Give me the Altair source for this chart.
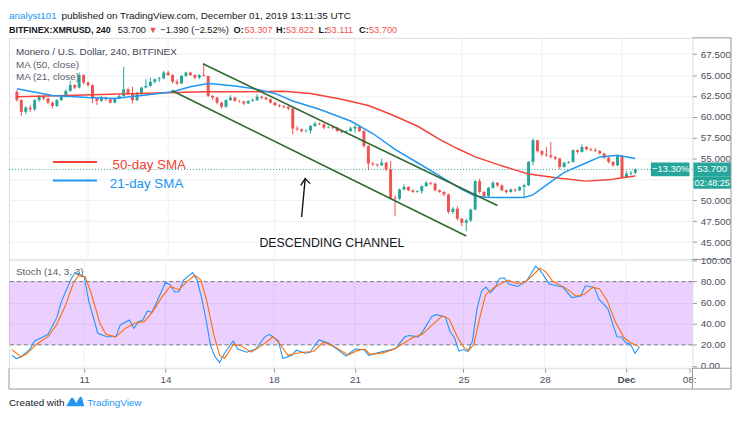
import altair as alt
import pandas as pd

# ---------------- data ----------------
first_open = 63.0
bar_close = [62.0, 60.6, 61.1, 60.9, 62.0, 62.4, 62.2, 61.7, 61.3, 62.0,
             62.4, 63.1, 63.8, 63.5, 65.0, 64.1, 63.8, 62.2, 61.9, 62.3,
             62.1, 61.7, 62.2, 62.5, 63.3, 62.8, 62.0, 62.8, 63.5, 63.7,
             64.2, 64.5, 64.6, 65.3, 65.0, 64.2, 64.0, 64.9, 65.3, 65.0,
             64.7, 65.0, 64.9, 62.5, 62.3, 61.7, 61.2, 62.0, 62.3, 61.9,
             61.85, 61.6, 61.9, 62.0, 62.4, 62.3, 62.1, 61.7, 61.4, 61.3,
             61.2, 61.0, 58.6, 58.5, 58.3, 58.35, 58.9, 59.2, 59.1, 58.7,
             58.75, 58.7, 58.3, 58.2, 58.3, 58.6, 58.8, 58.3, 56.5, 54.4,
             54.3, 54.2, 54.5, 53.7, 50.3, 50.2, 51.3, 51.6, 51.2, 51.0,
             51.1, 51.7, 52.1, 52.0, 51.2, 51.0, 50.7, 48.6, 49.0, 47.8,
             47.3, 47.6, 48.9, 52.3, 51.0, 50.5, 51.5, 52.1, 51.8, 51.2,
             51.0, 51.3, 51.2, 51.6, 51.8, 54.6, 57.2, 55.9, 55.5, 55.4,
             55.2, 55.0, 54.0, 54.5, 54.6, 56.0, 55.8, 56.4, 56.1, 56.0,
             55.9, 55.6, 55.1, 54.6, 54.2, 55.3, 52.8, 53.2, 53.307, 53.7]
bar_high = [63.2, 62.1, 61.3, 61.4, 62.1, 62.6, 62.5, 62.3, 61.8, 62.1,
            62.5, 63.3, 64.3, 63.9, 65.3, 65.1, 64.2, 63.9, 62.3, 62.5,
            62.4, 62.2, 62.3, 62.7, 66.0, 63.5, 63.6, 63.0, 63.6, 64.5,
            64.7, 64.6, 64.8, 65.5, 65.5, 65.1, 64.5, 65.0, 65.4, 65.4,
            65.1, 65.1, 66.4, 64.9, 62.6, 62.4, 61.8, 62.1, 62.6, 62.4,
            62.0, 61.9, 62.0, 62.2, 62.7, 62.5, 62.4, 62.2, 61.8, 61.5,
            61.4, 61.3, 61.1, 58.9, 58.6, 58.5, 59.0, 59.4, 59.3, 59.2,
            58.9, 58.9, 58.8, 58.4, 58.4, 58.8, 59.0, 58.9, 58.4, 56.6,
            54.6, 54.4, 55.0, 54.6, 54.7, 50.6, 51.4, 51.9, 51.7, 51.3,
            51.2, 51.8, 52.3, 52.2, 52.1, 51.3, 51.1, 50.8, 49.2, 49.3,
            47.9, 47.8, 49.0, 52.4, 52.6, 51.1, 51.6, 52.3, 52.2, 51.9,
            51.3, 51.4, 51.4, 51.7, 52.0, 54.7, 57.4, 57.2, 56.0, 56.4,
            57.0, 55.3, 55.1, 54.6, 54.7, 56.1, 56.1, 56.7, 56.5, 56.3,
            56.3, 56.0, 55.7, 55.2, 54.7, 55.4, 55.4, 53.5, 53.5, 53.822]
bar_low = [61.8, 60.1, 60.3, 60.6, 60.7, 61.8, 62.0, 61.5, 61.0, 61.2,
           61.9, 62.3, 63.0, 63.3, 63.4, 63.9, 63.6, 61.6, 61.4, 61.8,
           61.9, 61.6, 61.6, 62.1, 62.4, 62.6, 61.6, 61.9, 62.6, 63.4,
           63.6, 64.0, 64.2, 64.5, 64.9, 64.0, 63.8, 63.9, 64.8, 64.9,
           64.5, 64.5, 64.8, 62.4, 62.0, 61.5, 61.0, 61.1, 61.9, 61.8,
           61.7, 61.4, 61.5, 61.8, 61.9, 62.1, 62.0, 61.6, 61.3, 61.1,
           61.0, 60.8, 57.9, 58.3, 58.1, 58.1, 58.0, 58.8, 59.0, 58.5,
           58.6, 58.5, 58.2, 58.0, 58.1, 58.2, 58.1, 58.2, 56.3, 53.6,
           54.1, 54.0, 54.1, 53.5, 50.1, 48.1, 50.0, 51.2, 51.1, 50.9,
           50.9, 50.8, 51.6, 51.8, 51.1, 50.9, 50.5, 48.4, 48.4, 47.6,
           46.9, 46.3, 47.4, 48.8, 50.8, 50.3, 50.3, 51.4, 51.6, 51.1,
           50.8, 50.9, 51.0, 51.1, 50.4, 51.7, 54.2, 55.7, 55.3, 55.2,
           55.0, 54.8, 53.7, 53.9, 54.4, 54.5, 55.6, 55.7, 56.0, 55.9,
           55.8, 55.5, 55.0, 54.4, 54.0, 54.1, 52.7, 52.7, 53.0, 53.111]

ma50_bar = [0, 11, 25, 36, 42, 51, 60, 66, 73, 79, 84, 90, 95, 99, 103, 108, 111, 115, 122, 128, 133, 136, 139]
ma50_val = [62.4, 62.55, 62.75, 62.9, 63.0, 63.0, 63.05, 62.8, 62.1, 61.35, 60.3, 58.9, 57.3, 56.2, 55.2,
            54.3, 53.8, 53.15, 52.65, 52.3, 52.45, 52.7, 52.9]
ma21_bar = [0, 8, 16, 22, 29, 35, 39, 43, 45, 49, 53, 58, 62, 68, 75, 80, 85, 91, 96, 100, 103, 106,
            114, 116, 120, 123, 128, 131, 135, 139]
ma21_val = [63.35, 62.55, 62.3, 62.2, 62.6, 63.0, 63.6, 64.0, 63.9, 63.7, 63.4, 62.8, 61.9, 60.9, 59.5,
            58.0, 56.1, 54.2, 52.6, 51.3, 50.5, 50.35, 50.35, 50.65, 52.2, 53.35, 54.5, 55.2, 55.4, 55.0]

stoch_k_bar = [0, 1, 2, 4, 5, 7, 8, 10, 11, 13, 14, 16, 17, 19, 21, 23, 24, 26, 27, 28,
               29, 30, 31, 32, 34, 35, 36, 37, 38, 40, 41, 42, 43, 44, 45, 46, 47, 49, 50, 52,
               54, 56, 57, 59, 60, 62, 63, 65, 66, 68, 70, 72, 74, 76, 78, 79, 81, 84, 85, 87,
               88, 90, 91, 93, 94, 96, 97, 98, 99, 100, 101, 102, 103, 104, 105, 106, 107, 108, 109, 110,
               112, 114, 115, 116, 117, 119, 122, 124, 126, 127, 129, 130, 132, 134, 135, 136, 137, 138, 139]
stoch_k_val = [10, 7, 8.5, 16, 23.7, 27.6, 30, 46.5, 61.7, 81.5, 89, 84.6, 61.7, 31, 27.6, 27.6, 38.9, 43.5, 35.8, 42,
               43.5, 52, 51, 60, 79.4, 77, 70.3, 70.3, 81.5, 88.5, 81.5, 64.8, 43.5, 19, 8.5, 3.3, 11.5, 23.7, 16, 13,
               16, 27.6, 30, 23.7, 7, 10, 15, 12, 13, 24.6, 22, 16, 9.4, 16, 15.5, 10, 12.4, 15.5, 16.8, 27.6,
               28.8, 27.6, 32.8, 47, 48.6, 46.5, 32.8, 26.7, 14, 15.5, 13.7, 23.7, 54.1, 70.9, 74.8, 69.4, 74.5, 83, 83.6, 77.8,
               75.4, 80.6, 87.6, 94.6, 90.6, 77.8, 74.8, 64.8, 66.3, 76, 74.5, 63.3, 54.1, 27.6, 27.4, 22, 20.6, 12, 18]
stoch_d_bar = [0, 1.97, 3.29, 5.48, 8.1, 9.86, 11.83, 13.58, 14.68, 16.21, 17.52, 19.5, 20.81, 23.0, 25.19,
               27.38, 29.35, 31.1, 33.3, 35.05, 37.0, 38.77, 40.5, 41.84, 43.15, 44.69, 46.0, 47.1, 49.07, 50.82,
               53.0, 55.2, 57.83, 59.15, 61.12, 62.43, 64.6, 66.8, 69.0, 71.19, 74.48, 76.45, 78.2, 79.3, 82.15,
               84.78, 86.53, 88.72, 90.9, 93.1, 95.29, 96.82, 98.58, 100.1, 101.2, 102.3, 103.83, 104.93, 106.68,
               108.43, 109.97, 111.5, 113.25, 115.0, 116.98, 118.29, 119.82, 122.45, 124.86, 126.83, 128.59,
               130.12, 131.87, 133.63, 135.6, 136.9, 138.88]
stoch_d_val = [15.5, 8.5, 11.5, 20.6, 28.2, 38.9, 57, 78.4, 85.5, 84.6, 69.4, 40.4, 30, 27.6, 35.8,
               41, 42, 51, 66, 75.4, 72.3, 80, 86, 81.5, 61.7, 30, 10, 7, 20.6, 19,
               13, 19, 27.6, 22, 10, 11.5, 13, 13.7, 22.5, 19, 10.5, 14.5, 16, 11, 12.4,
               16, 21, 26.7, 30, 38.9, 47.4, 44.7, 28.2, 17.6, 14.5, 20.6, 49.5, 67.8, 73.9,
               78.4, 81.5, 78.4, 78.4, 84.6, 92.8, 89, 80, 74.5, 66.3, 68, 74.5,
               73.3, 61.7, 42, 26.7, 22.5, 18.3]

price_ticks = [45.0, 47.5, 50.0, 52.5, 55.0, 57.5, 60.0, 62.5, 65.0, 67.5]
hidden_price_label = 52.5
stoch_ticks = [0, 20, 40, 60, 80, 100]
stoch_levels = [20, 80]
time_tick_bars = [16, 34, 58, 76, 100, 118, 136, 150]
time_tick_labels = ["11", "14", "18", "21", "25", "28", "Dec", "08:"]
last_price = 53.7

channel_name = ["upper", "upper", "lower", "lower"]
channel_bar = [41.8, 108.0, 34.8, 101.0]
channel_price = [66.35, 49.38, 63.15, 45.73]

arrow_name = ["shaft", "shaft", "head", "head", "head"]
arrow_bar = [64.0, 64.8, 63.8, 64.8, 65.9]
arrow_price = [48.0, 52.6, 51.8, 52.6, 52.0]

sma_text = ["50-day SMA", "21-day SMA"]
sma_line_bar0 = [8.1, 8.1]
sma_line_bar1 = [18.0, 18.0]
sma_line_price = [54.58, 52.38]
sma_text_bar = [21.5, 20.9]
sma_text_price = [54.23, 51.89]

# ---------------- styling ----------------
FONT = "Liberation Sans"
GREEN, RED = "#26a69a", "#ef5350"
MA50C, MA21C = "#f44336", "#2196f3"
CHC = "#2e6930"
FRAME = "#9598a1"
GRID = "#edf0f5"
DARK = "#131722"
GRAY = "#5d606b"
W, HP, HS, AR = 691, 224, 110, 21

xs = alt.Scale(domain=[-0.657, 150.72], nice=False, zero=False)
ys = alt.Scale(domain=[42.92, 69.45], nice=False, zero=False)
ss = alt.Scale(domain=[-2.2, 101], nice=False, zero=False)

one = pd.DataFrame({"k": [0]})

price_axis = alt.Axis(orient="right", values=price_ticks, title=None, grid=True,
                      labelExpr=f"datum.value == {hidden_price_label} ? '' : format(datum.value, '.3f')",
                      gridColor=GRID, domain=False, tickSize=4, tickColor=FRAME, labelFontSize=10,
                      labelColor="#4c4f5a", labelPadding=4, labelFont=FONT)
expr = "".join(f"datum.value == {b} ? '{t}' : " for b, t in zip(time_tick_bars, time_tick_labels)) + "''"
time_axis = alt.Axis(orient="bottom", values=time_tick_bars, labelExpr=expr, grid=False, domain=False,
                     tickSize=4, tickColor=FRAME, labelFontSize=10, labelColor="#4c4f5a", labelPadding=2,
                     labelFont=FONT, title=None,
                     labelFontWeight=alt.condition("datum.value == 136", alt.value("bold"), alt.value("normal")))
stoch_axis = alt.Axis(orient="right", values=stoch_ticks, format=".2f", title=None, grid=True, gridColor=GRID,
                      domain=False, tickSize=4, tickColor=FRAME, labelFontSize=10, labelColor="#4c4f5a",
                      labelPadding=4, labelFont=FONT)


def PX(field="bar"):
    return alt.X(f"{field}:Q", scale=xs, axis=None)

def PY(field):
    return alt.Y(f"{field}:Q", scale=ys, axis=price_axis)

def SX(field="bar"):
    return alt.X(f"{field}:Q", scale=xs, axis=time_axis)

def SY(field):
    return alt.Y(f"{field}:Q", scale=ss, axis=stoch_axis)

def frame_rule(x1, x2, y1, y2):
    return alt.Chart(one).mark_rule(color=FRAME, strokeWidth=1).encode(
        x=alt.value(x1), x2=alt.value(x2), y=alt.value(y1), y2=alt.value(y2))

def label(text, x, y, size=10, color=DARK, weight="normal", align="left"):
    return alt.Chart(one).mark_text(text=text, align=align, baseline="middle", fontSize=size,
                                    color=color, fontWeight=weight, font=FONT).encode(
        x=alt.value(x), y=alt.value(y))

# ---------------- tables ----------------
n = len(bar_close)
candles = pd.DataFrame({"bar": list(range(n)), "open": [first_open] + bar_close[:-1],
                        "close": bar_close, "high": bar_high, "low": bar_low})
candles["high"] = candles[["high", "open", "close"]].max(axis=1)
candles["low"] = candles[["low", "open", "close"]].min(axis=1)
candles["dir"] = ["up" if c >= o else "down" for o, c in zip(candles.open, candles.close)]
ccolor = alt.Color("dir:N", scale=alt.Scale(domain=["up", "down"], range=[GREEN, RED]), legend=None)

ma50 = pd.DataFrame({"bar": ma50_bar, "v": ma50_val})
ma21 = pd.DataFrame({"bar": ma21_bar, "v": ma21_val})
chan = pd.DataFrame({"name": channel_name, "bar": channel_bar, "p": channel_price})
arrow = pd.DataFrame({"name": arrow_name, "bar": arrow_bar, "p": arrow_price})
sma = pd.DataFrame({"t": sma_text, "b0": sma_line_bar0, "b1": sma_line_bar1, "lp": sma_line_price,
                    "tb": sma_text_bar, "tp": sma_text_price, "c": [MA50C, MA21C]})
grid_days = pd.DataFrame({"bar": time_tick_bars[:-1]})
kdf = pd.DataFrame({"bar": stoch_k_bar, "v": stoch_k_val})
ddf = pd.DataFrame({"bar": stoch_d_bar, "v": stoch_d_val})

# ---------------- price panel ----------------
p_grid = alt.Chart(grid_days).mark_rule(color=GRID).encode(x=PX())
p_last = alt.Chart(pd.DataFrame({"p": [last_price]})).mark_rule(
    color=GREEN, strokeDash=[1, 2], strokeWidth=1).encode(y=PY("p"))
wick = alt.Chart(candles).mark_rule(strokeWidth=1).encode(x=PX(), y=PY("low"), y2="high:Q", color=ccolor)
body = alt.Chart(candles).mark_bar(size=3).encode(x=PX(), y=PY("open"), y2="close:Q", color=ccolor)
l50 = alt.Chart(ma50).mark_line(color=MA50C, strokeWidth=1.5).encode(x=PX(), y=PY("v"))
l21 = alt.Chart(ma21).mark_line(color=MA21C, strokeWidth=1.5).encode(x=PX(), y=PY("v"))
chl = alt.Chart(chan).mark_line(color=CHC, strokeWidth=1.6).encode(x=PX(), y=PY("p"), detail="name:N")
arr = alt.Chart(arrow).mark_line(color="#111111", strokeWidth=1.4).encode(x=PX(), y=PY("p"), detail="name:N")
sma_l = alt.Chart(sma).mark_rule(strokeWidth=2).encode(
    x=PX("b0"), x2="b1:Q", y=PY("lp"), color=alt.Color("c:N", scale=None))
sma_t = alt.Chart(sma).mark_text(align="left", baseline="middle", fontSize=13.5, font=FONT).encode(
    x=PX("tb"), y=PY("tp"), text="t:N", color=alt.Color("c:N", scale=None))
desc = alt.Chart(pd.DataFrame({"bar": [70.8], "p": [44.9], "t": ["DESCENDING CHANNEL"]})).mark_text(
    align="center", baseline="middle", fontSize=12.5, font=FONT, color=DARK).encode(
    x=PX(), y=PY("p"), text="t:N")

box_df = pd.DataFrame({"y1": [54.53], "y2": [52.87], "y3": [51.4], "p": [last_price], "q": [52.13]})
box1 = alt.Chart(box_df).mark_rect(color=GREEN).encode(
    x=alt.value(W - 42), x2=alt.value(W - 3), y=PY("y1"), y2="y2:Q")
box2 = alt.Chart(box_df).mark_rect(color=GREEN).encode(
    x=alt.value(W + 1), x2=alt.value(W + 39), y=PY("y1"), y2="y2:Q")
box3 = alt.Chart(box_df).mark_rect(color=GREEN).encode(
    x=alt.value(W + 1), x2=alt.value(W + 39), y=PY("y2"), y2="y3:Q")
bt1 = alt.Chart(box_df).mark_text(text="\u221213.30%", color="white", fontSize=9.5, font=FONT,
                                  align="center", baseline="middle").encode(x=alt.value(W - 22), y=PY("p"))
bt2 = alt.Chart(box_df).mark_text(text="53.700", color="white", fontSize=10, font=FONT,
                                  align="center", baseline="middle").encode(x=alt.value(W + 20), y=PY("p"))
bt3 = alt.Chart(box_df).mark_text(text="02:48:25", color="white", fontSize=9.2, font=FONT,
                                  align="center", baseline="middle").encode(x=alt.value(W + 20), y=PY("q"))

H2 = 9.3
hdr = [
    label("analyst101", 0, -22, color="#2196f3"),
    label("published on TradingView.com, December 01, 2019 13:11:35 UTC", 53, -22),
    label("BITFINEX:XMRUSD, 240", 0, -8, size=9.0, weight="bold"),
    label("53.700", 110, -8, size=H2),
    label("\u25bc", 141, -8, size=H2, color=RED),
    label("\u22121.390 (\u22122.52%)", 153, -8, size=H2),
    label("O:", 227, -8, size=H2, weight="bold"), label("53.307", 238, -8, size=H2, color=RED),
    label("H:", 270, -8, size=H2, weight="bold"), label("53.822", 280, -8, size=H2, color=RED),
    label("L:", 313, -8, size=H2, weight="bold"), label("53.111", 321, -8, size=H2, color=RED),
    label("C:", 354, -8, size=H2, weight="bold"), label("53.700", 364, -8, size=H2, color=RED),
    label("Monero / U.S. Dollar, 240, BITFINEX", 7, 14, color="#434651"),
    label("MA (50, close)", 7, 27, color=GRAY),
    label("MA (21, close)", 7, 40, color=GRAY),
]
p_frame = [frame_rule(W, W + 39, 0, 0), frame_rule(W, W + 39, HP, HP), frame_rule(W + 39, W + 39, 0, HP)]

price = alt.layer(p_grid, p_last, wick, body, l50, l21, chl, arr, sma_l, sma_t, desc,
                  box1, box2, box3, bt1, bt2, bt3, *hdr, *p_frame).properties(width=W, height=HP)

# ---------------- stochastic panel ----------------
s_grid = alt.Chart(grid_days).mark_rule(color=GRID).encode(x=SX())
band = alt.Chart(pd.DataFrame({"hi": [max(stoch_levels)], "lo": [min(stoch_levels)]})).mark_rect(
    color="#9915ff", opacity=0.2).encode(x=alt.value(0), x2=alt.value(W), y=SY("hi"), y2="lo:Q")
lv = alt.Chart(pd.DataFrame({"lv": stoch_levels})).mark_rule(color="#787b86", strokeDash=[4, 3]).encode(
    y=SY("lv"))
kline = alt.Chart(kdf).mark_line(color="#2196f3", strokeWidth=1.1).encode(x=SX(), y=SY("v"))
dline = alt.Chart(ddf).mark_line(color="#ff6d00", strokeWidth=1.1).encode(x=SX(), y=SY("v"))
s_title = label("Stoch (14, 3, 3)", 7, 13, color=GRAY)
logo = alt.Chart(one).mark_point(
    shape="M-1,0.5 L-0.55,-0.3 Q-0.35,-0.6 -0.15,-0.3 L0.1,0.15 L0.45,-0.45 Q0.62,-0.7 0.78,-0.4 L1,0.5 Z",
    filled=True, size=330, color="#2196f3", opacity=1).encode(x=alt.value(67), y=alt.value(HS + AR + 13))
foot = [label("Created with", 0, HS + AR + 14), logo,
        label("TradingView", 79, HS + AR + 14, color="#2196f3")]
s_frame = [frame_rule(W, W + 39, 0, 0), frame_rule(W, W + 39, HS, HS),
           frame_rule(0, W + 39, HS + AR, HS + AR), frame_rule(0, 0, HS, HS + AR),
           frame_rule(W, W, HS, HS + AR), frame_rule(W + 39, W + 39, 0, HS + AR)]

stoch = alt.layer(s_grid, band, lv, kline, dline, s_title, *foot, *s_frame).properties(width=W, height=HS)

chart = alt.vconcat(price, stoch, spacing=0, bounds="flush").properties(padding=0).configure_view(
    stroke=FRAME, strokeWidth=1).configure(font=FONT)

chart.save("out.html", embed_options={"renderer": "svg", "actions": False})
